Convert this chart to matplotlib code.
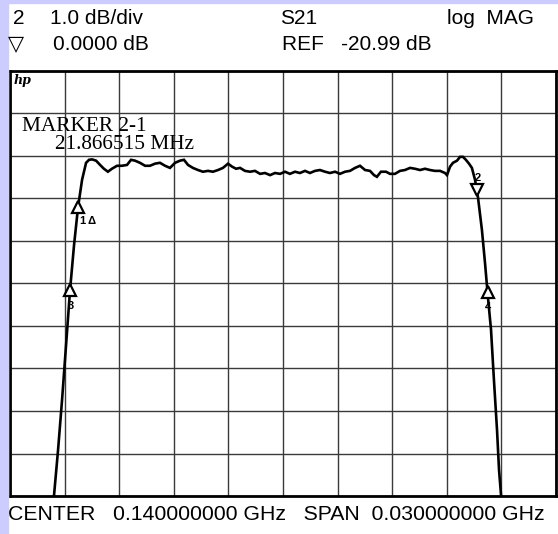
import matplotlib
matplotlib.use("Agg")
import matplotlib.pyplot as plt
from matplotlib.patches import Rectangle

# S21 trace, frequency in MHz and magnitude in dB
freq = [127.20, 127.42, 127.64, 127.86, 128.08, 128.30, 128.52, 128.74, 128.96, 129.18,
        129.34, 129.51, 129.73, 129.95, 130.16, 130.38, 130.60, 130.88, 131.15, 131.43,
        131.65, 131.87, 132.14, 132.42, 132.69, 132.97, 133.24, 133.52, 133.79, 134.07,
        134.34, 134.56, 134.78, 135.05, 135.33, 135.60, 135.88, 136.15, 136.43, 136.70,
        136.98, 137.20, 137.42, 137.64, 137.91, 138.19, 138.46, 138.74, 139.01, 139.29,
        139.56, 139.84, 140.11, 140.38, 140.66, 140.93, 141.21, 141.48, 141.76, 142.03,
        142.31, 142.58, 142.86, 143.13, 143.41, 143.68, 143.96, 144.23, 144.51, 144.78,
        145.00, 145.16, 145.38, 145.66, 145.88, 146.15, 146.43, 146.70, 146.98, 147.25,
        147.53, 147.80, 148.08, 148.35, 148.63, 148.90, 149.01, 149.18, 149.34, 149.56,
        149.73, 149.89, 150.05, 150.22, 150.38, 150.55, 150.71, 150.93, 151.10, 151.26,
        151.43, 151.59, 151.76, 151.87, 151.98, 152.20]
mag = [-26.79, -25.97, -24.91, -23.73, -22.44, -21.14, -20.08, -19.19, -18.55, -18.15,
       -18.08, -18.07, -18.10, -18.20, -18.29, -18.36, -18.29, -18.22, -18.22, -18.20,
       -18.08, -18.10, -18.15, -18.22, -18.22, -18.17, -18.15, -18.22, -18.27, -18.15,
       -18.10, -18.08, -18.20, -18.27, -18.32, -18.36, -18.34, -18.36, -18.32, -18.27,
       -18.17, -18.24, -18.29, -18.27, -18.34, -18.36, -18.34, -18.41, -18.39, -18.44,
       -18.39, -18.41, -18.36, -18.41, -18.36, -18.39, -18.34, -18.39, -18.34, -18.32,
       -18.36, -18.39, -18.36, -18.41, -18.36, -18.34, -18.27, -18.22, -18.32, -18.34,
       -18.44, -18.48, -18.36, -18.36, -18.41, -18.41, -18.34, -18.32, -18.27, -18.29,
       -18.32, -18.29, -18.32, -18.34, -18.34, -18.39, -18.44, -18.24, -18.15, -18.10,
       -18.01, -18.01, -18.08, -18.17, -18.27, -18.55, -18.95, -19.73, -20.51, -21.31,
       -22.08, -23.26, -24.44, -25.38, -25.97, -26.79]

# markers: label, freq (MHz), mag (dB)
marker_names = ["1", "3", "2", "4"]
marker_freq = [128.74, 128.30, 150.66, 151.26]
marker_mag = [-19.19, -21.14, -18.80, -21.20]

center_mhz = 140.0
span_mhz = 30.0
ref_db = -20.99
db_per_div = 1.0

W, H = 558, 534
fig = plt.figure(figsize=(W / 100, H / 100), dpi=100)
fig.patch.set_facecolor("white")

# lavender frame strips
lav = "#ccccff"
fig.patches.append(Rectangle((0, 0), 8 / W, 1, transform=fig.transFigure, color=lav, zorder=0))
fig.patches.append(Rectangle((0, 1 - 3 / H), 1, 3 / H, transform=fig.transFigure, color=lav, zorder=0))

ax = fig.add_axes([10 / W, 38 / H, 546 / W, 425 / H])
x0 = center_mhz - span_mhz / 2
x1 = center_mhz + span_mhz / 2
ax.set_xlim(x0, x1)
ax.set_ylim(ref_db - 5 * db_per_div, ref_db + 5 * db_per_div)
ax.set_xticks([x0 + i * span_mhz / 10 for i in range(11)])
ax.set_yticks([ref_db + (i - 5) * db_per_div for i in range(11)])
ax.tick_params(length=0, labelbottom=False, labelleft=False)
ax.grid(True, color="#3a3a3a", linewidth=1.0)
for s in ax.spines.values():
    s.set_linewidth(2.0)
    s.set_color("black")

ax.plot(freq, mag, color="black", linewidth=1.9, solid_joinstyle="miter")

# markers
for name, f, m in zip(marker_names, marker_freq, marker_mag):
    sym = "v" if name == "2" else "^"
    ax.plot(f, m, marker=sym, markersize=8, markerfacecolor="white",
            markeredgecolor="black", markeredgewidth=1.6, linestyle="none")

lbl = dict(fontsize=8, fontweight="bold", family=["Liberation Sans", "DejaVu Sans"], color="black")
ax.annotate("1", (marker_freq[0], marker_mag[0]), xytext=(1, -14), textcoords="offset pixels",
            ha="left", va="center", **lbl)
ax.annotate("\u0394", (marker_freq[0], marker_mag[0]), xytext=(9, -14), textcoords="offset pixels",
            ha="left", va="center", **lbl)
ax.annotate("3", (marker_freq[1], marker_mag[1]), xytext=(1, -16), textcoords="offset pixels",
            ha="center", va="center", **lbl)
ax.annotate("2", (marker_freq[2], marker_mag[2]), xytext=(1, 12), textcoords="offset pixels",
            ha="center", va="center", **lbl)
ax.annotate("4", (marker_freq[3], marker_mag[3]), xytext=(0, -15), textcoords="offset pixels",
            ha="center", va="center", **lbl)

ax.text(0.006, 0.992, "hp", transform=ax.transAxes, ha="left", va="top",
        fontsize=9, fontweight="bold", style="italic", family="DejaVu Serif")

serif = dict(family="Liberation Serif", fontsize=15.3, color="black")
ax.text(12 / 546, 1 - (131 - 71) / 425, "MARKER 2-1", transform=ax.transAxes,
        ha="left", va="baseline", **serif)
ax.text(45 / 546, 1 - (149 - 71) / 425, "21.866515 MHz", transform=ax.transAxes,
        ha="left", va="baseline", **serif)

# header and footer text
sans = dict(family=["Liberation Sans", "DejaVu Sans"], fontsize=15, color="black", va="baseline")


def ftext(x, y, s, size=15):
    fig.text(x / W, 1 - y / H, s, ha="left", **dict(sans, fontsize=size))


ftext(13, 24, "2")
ftext(50, 24, "1.0 dB/div")
ftext(280, 24, "S21")
ftext(447, 24, "log  MAG")
ftext(8, 50, "\u25bd")
ftext(53, 50, "0.0000 dB")
ftext(282, 50, "REF   -20.99 dB")
ftext(8, 520, "CENTER   0.140000000 GHz   SPAN  0.030000000 GHz", size=15.3)

fig.savefig("out.png", dpi=100)
